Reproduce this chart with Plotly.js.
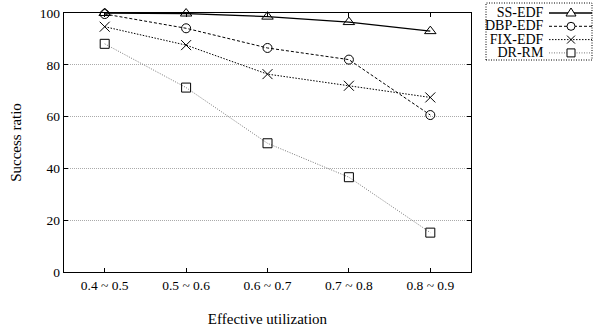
<!DOCTYPE html>
<html><head><meta charset="utf-8">
<script src="https://cdn.plot.ly/plotly-3.0.1.min.js"></script>
<style>html,body{margin:0;padding:0;background:#fff}</style>
</head><body><div id="chart" style="width:593px;height:328px"></div>
<script>
var categories = ["0.4 ~ 0.5","0.5 ~ 0.6","0.6 ~ 0.7","0.7 ~ 0.8","0.8 ~ 0.9"];
var ssEdf  = [100, 99.8, 98.6, 96.5, 93.0];
var dbpEdf = [99.6, 94.1, 86.5, 82.0, 60.6];
var fixEdf = [94.7, 87.6, 76.4, 71.9, 67.4];
var drRm   = [88.1, 71.2, 49.7, 36.6, 15.2];
var seriesNames = ["SS-EDF","DBP-EDF","FIX-EDF","DR-RM"];
var yTicks = [0,20,40,60,80,100];

var FONT = "'Liberation Serif', 'Times New Roman', Times, serif";
var W = 593, H = 328, L = 64, R = 471, T = 13, B = 272;
function px(x){ return (x - L) / (R - L); }
function py(y){ return (B - y) / (B - T); }

var styles = [
  {dash:'solid', width:1.3, color:'#000', symbol:'triangle-up-open', size:10},
  {dash:'3px,2px', width:1, color:'#000', symbol:'circle-open', size:9},
  {dash:'1.5px,1.5px', width:1, color:'#000', symbol:'x-thin-open', size:10},
  {dash:'1px,1.5px', width:1, color:'#777', symbol:'square-open', size:9}
];
var data = [ssEdf, dbpEdf, fixEdf, drRm];
var traces = data.map(function(vals, i){
  var s = styles[i];
  return {
    x: categories, y: vals, name: seriesNames[i], type:'scatter', mode:'lines+markers',
    line:{color:s.color, width:s.width, dash:s.dash},
    marker:{symbol:s.symbol, size:s.size, color:'#000', line:{color:'#000', width:1}},
    cliponaxis:false
  };
});

// custom legend (text left, sample right)
var ROW = 13.3, ROW0 = 13;
var shapes = [], annotations = [];
shapes.push({type:'rect', xref:'paper', yref:'paper', x0:px(486), x1:px(592), y0:py(60), y1:py(3),
  line:{color:'#000', width:1, dash:'1px,1.5px'}});
annotations.push({xref:'paper', yref:'paper', x:px(545), y:py(ROW0 + 1.5*ROW), xanchor:'right', yanchor:'middle',
  align:'right', borderpad:0, showarrow:false,
  text: seriesNames.map(function(n){ return '<span style="font-size:14px">' + n + '</span>'; }).join('<br>'),
  font:{family:FONT, size:ROW/1.3, color:'#000'}});
for (var i = 0; i < 4; i++) {
  var yy = ROW0 + i * ROW, s = styles[i];
  shapes.push({type:'line', xref:'paper', yref:'paper', x0:px(549), x1:px(592), y0:py(yy), y1:py(yy),
    line:{color:s.color, width:s.width, dash:s.dash}});
  var cx = 571, r = 4;
  if (i === 0) {
    shapes.push({type:'path', xref:'paper', yref:'paper', fillcolor:'#fff',
      path:'M'+px(cx-5)+','+py(yy+3)+' L'+px(cx+5)+','+py(yy+3)+' L'+px(cx)+','+py(yy-5)+' Z', line:{color:'#000', width:1}});
  } else if (i === 1) {
    shapes.push({type:'circle', xref:'paper', yref:'paper', fillcolor:'#fff', x0:px(cx-r), x1:px(cx+r), y0:py(yy+r), y1:py(yy-r), line:{color:'#000', width:1}});
  } else if (i === 2) {
    shapes.push({type:'line', xref:'paper', yref:'paper', x0:px(cx-4), x1:px(cx+4), y0:py(yy-4), y1:py(yy+4), line:{color:'#000', width:1}});
    shapes.push({type:'line', xref:'paper', yref:'paper', x0:px(cx-4), x1:px(cx+4), y0:py(yy+4), y1:py(yy-4), line:{color:'#000', width:1}});
  } else {
    shapes.push({type:'rect', xref:'paper', yref:'paper', fillcolor:'#fff', x0:px(cx-r), x1:px(cx+r), y0:py(yy+r), y1:py(yy-r), line:{color:'#000', width:1}});
  }
}

var layout = {
  width: W, height: H,
  margin:{l:L, r:W-R, t:T, b:H-B},
  paper_bgcolor:'#fff', plot_bgcolor:'#fff',
  showlegend:false,
  font:{family:FONT, size:13, color:'#000'},
  xaxis:{
    type:'category', range:[-0.5, 4.5],
    showline:true, linecolor:'#000', linewidth:1.3, mirror:'ticks',
    ticks:'inside', ticklen:4, tickcolor:'#000',
    showgrid:false, zeroline:false,
    tickfont:{family:FONT, size:13.5},
    title:{text:'Effective utilization', font:{family:FONT, size:15}, standoff:22}
  },
  yaxis:{
    range:[0,100], tickvals:yTicks, ticktext:yTicks.map(String),
    showline:true, linecolor:'#000', linewidth:1.3, mirror:'ticks',
    ticks:'inside', ticklen:4, tickcolor:'#000',
    showgrid:true, gridcolor:'#aaa', griddash:'1px,1px', gridwidth:1,
    zeroline:false,
    tickfont:{family:FONT, size:13.5},
    title:{text:'Success ratio', font:{family:FONT, size:15}, standoff:14}
  },
  shapes: shapes,
  annotations: annotations
};
Plotly.newPlot('chart', traces, layout, {staticPlot:true, displayModeBar:false});
</script></body></html>
